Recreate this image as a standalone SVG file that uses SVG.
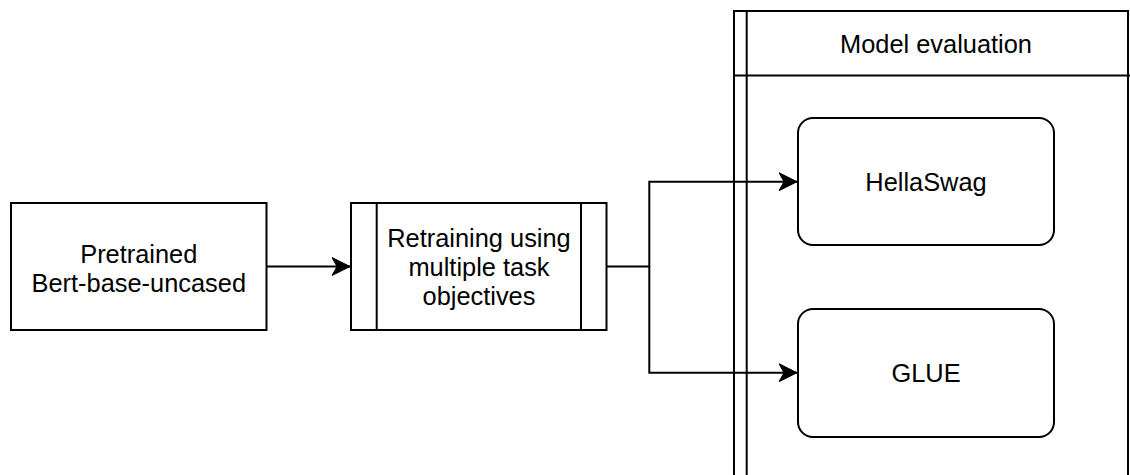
<svg xmlns="http://www.w3.org/2000/svg" width="1130" height="475" viewBox="0 0 1130 475">
  <style>
    .shape { fill: #ffffff; stroke: #000000; stroke-width: 2; }
    .edge { fill: none; stroke: #000000; stroke-width: 2; }
    .label { font-family: "Liberation Sans", Arial, Helvetica, sans-serif; font-size: 25.4px; fill: #000000; text-anchor: middle; }
  </style>
  <defs>
    <marker id="arrow" markerUnits="userSpaceOnUse" markerWidth="20" markerHeight="20" viewBox="0 0 20 20" refX="18" refY="10" orient="auto">
      <path d="M18,10 L0,1 L5,10 L0,19 Z" fill="#000000" stroke="#000000" stroke-width="1"/>
    </marker>
  </defs>

  <!-- Evaluation container (swimlane with double left border) -->
  <g id="model-evaluation">
    <rect class="shape" x="734" y="11" width="394" height="480"/>
    <line class="edge" x1="746.7" y1="11" x2="746.7" y2="480"/>
    <line class="edge" x1="734" y1="75.5" x2="1130" y2="75.5"/>
    <text class="label" x="936" y="52.5">Model evaluation</text>
  </g>

  <!-- Pretrained model -->
  <g id="pretrained">
    <rect class="shape" x="11" y="203" width="255.5" height="127"/>
    <text class="label" x="138.8" y="262.5">Pretrained</text>
    <text class="label" x="138.8" y="291.7">Bert-base-uncased</text>
  </g>

  <!-- Retraining process -->
  <g id="retraining">
    <rect class="shape" x="351" y="203" width="255.5" height="127"/>
    <line class="edge" x1="376.7" y1="203" x2="376.7" y2="330"/>
    <line class="edge" x1="581" y1="203" x2="581" y2="330"/>
    <text class="label" x="479" y="246.7">Retraining using</text>
    <text class="label" x="479" y="276">multiple task</text>
    <text class="label" x="479" y="305.3">objectives</text>
  </g>

  <!-- Benchmarks -->
  <g id="hellaswag">
    <rect class="shape" x="798" y="118" width="256" height="127" rx="15" ry="15"/>
    <text class="label" x="926" y="190.5">HellaSwag</text>
  </g>
  <g id="glue">
    <rect class="shape" x="798" y="309" width="256" height="128" rx="15" ry="15"/>
    <text class="label" x="926" y="382">GLUE</text>
  </g>

  <!-- Connectors -->
  <g id="connectors">
    <path class="edge" d="M266.5,266.5 L350,266.5" marker-end="url(#arrow)"/>
    <path class="edge" d="M606.5,266.5 L649.3,266.5 L649.3,181.7 L797,181.7" marker-end="url(#arrow)"/>
    <path class="edge" d="M649.3,266.5 L649.3,372.7 L797,372.7" marker-end="url(#arrow)"/>
  </g>
</svg>
